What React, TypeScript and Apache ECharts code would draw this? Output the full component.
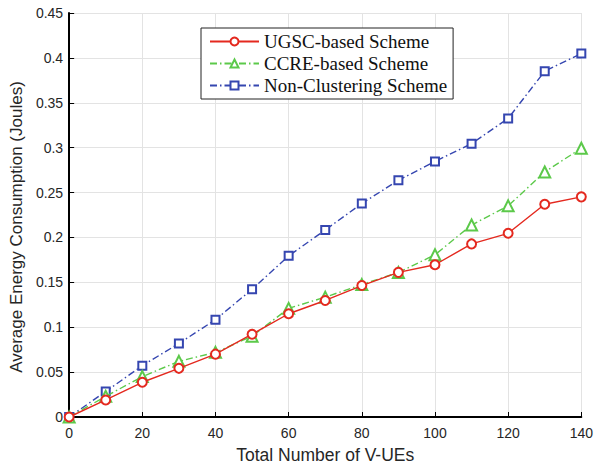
import React, { useEffect, useRef } from "react";
import * as echarts from "echarts";

const xValues = [0, 10, 20, 30, 40, 50, 60, 70, 80, 90, 100, 110, 120, 130, 140];
const ugsc = [0, 0.019, 0.0387, 0.0542, 0.070, 0.0922, 0.115, 0.1298, 0.1464, 0.1611, 0.1696, 0.1928, 0.2046, 0.237, 0.2452];
const ccre = [0, 0.023, 0.045, 0.062, 0.072, 0.090, 0.121, 0.1335, 0.1475, 0.161, 0.1807, 0.2138, 0.2352, 0.2729, 0.2994];
const nonClustering = [0, 0.0284, 0.0572, 0.0819, 0.1084, 0.1423, 0.1795, 0.2083, 0.2378, 0.2636, 0.2846, 0.3045, 0.3326, 0.3852, 0.4048];
const seriesNames = ["UGSC-based Scheme", "CCRE-based Scheme", "Non-Clustering Scheme"];

const RED = "#e4291f";
const GREEN = "#5cc94a";
const BLUE = "#3546b0";
const DASHDOT = [7, 3, 1.5, 3];

function pairs(ys: number[]) {
  return xValues.map((x, i) => [x, ys[i]]);
}

export default function App() {
  const ref = useRef<HTMLDivElement>(null);
  useEffect(() => {
    if (!ref.current) return;
    const chart = echarts.init(ref.current, undefined, { renderer: "svg" });
    const tickFont = { fontFamily: "Liberation Sans", fontSize: 14, color: "#262626" };
    chart.setOption({
      animation: false,
      backgroundColor: "#fff",
      grid: { left: 68, right: 11, top: 13, bottom: 49 },
      legend: {
        orient: "vertical",
        left: 201,
        top: 28,
        padding: [4, 6, 4, 8],
        itemGap: 3,
        itemWidth: 49,
        itemHeight: 10,
        backgroundColor: "#fff",
        borderColor: "#222",
        borderWidth: 1,
        borderRadius: 0,
        textStyle: { fontFamily: "Liberation Serif", fontSize: 19, lineHeight: 19, color: "#111" },
        data: seriesNames,
      },
      xAxis: {
        type: "value",
        min: 0,
        max: 140,
        interval: 20,
        name: "Total Number of V-UEs",
        nameLocation: "middle",
        nameGap: 29,
        nameTextStyle: { fontFamily: "Liberation Sans", fontSize: 17.5, color: "#262626" },
        axisLine: { show: true, lineStyle: { color: "#000", width: 2 } },
        axisTick: { show: true, inside: true, length: 5, lineStyle: { color: "#000", width: 1 } },
        axisLabel: { ...tickFont, margin: 9 },
        splitLine: { show: true, lineStyle: { color: "#e3e3e3", width: 1 } },
      },
      yAxis: {
        type: "value",
        min: 0,
        max: 0.45,
        interval: 0.05,
        name: "Average Energy Consumption (Joules)",
        nameLocation: "middle",
        nameGap: 40,
        nameTextStyle: {
          fontFamily: "Liberation Sans",
          fontSize: 17,
          color: "#262626",
          padding: [0, 24, 0, 0],
        },
        axisLine: { show: true, lineStyle: { color: "#000", width: 2 } },
        axisTick: { show: true, inside: true, length: 5, lineStyle: { color: "#000", width: 1 } },
        axisLabel: {
          ...tickFont,
          margin: 6,
          formatter: (v: number) => String(+v.toFixed(2)),
        },
        splitLine: { show: true, lineStyle: { color: "#e3e3e3", width: 1 } },
      },
      series: [
        {
          name: seriesNames[0],
          type: "line",
          data: pairs(ugsc),
          symbol: "emptyCircle",
          symbolSize: 9,
          color: RED,
          lineStyle: { color: RED, width: 1.4, type: "solid" },
          itemStyle: { color: RED, borderWidth: 1.3 },
          z: 3,
        },
        {
          name: seriesNames[1],
          type: "line",
          data: pairs(ccre),
          symbol: "emptyTriangle",
          symbolSize: 11,
          color: GREEN,
          lineStyle: { color: GREEN, width: 1.4, type: DASHDOT },
          itemStyle: { color: GREEN, borderWidth: 1.3 },
          z: 2,
        },
        {
          name: seriesNames[2],
          type: "line",
          data: pairs(nonClustering),
          symbol: "emptyRect",
          symbolSize: 8,
          color: BLUE,
          lineStyle: { color: BLUE, width: 1.4, type: DASHDOT },
          itemStyle: { color: BLUE, borderWidth: 1.3 },
          z: 1,
        },
      ],
    });
    return () => chart.dispose();
  }, []);
  return <div ref={ref} style={{ width: 596, height: 469, position: "fixed", left: 0, top: 0 }} />;
}
